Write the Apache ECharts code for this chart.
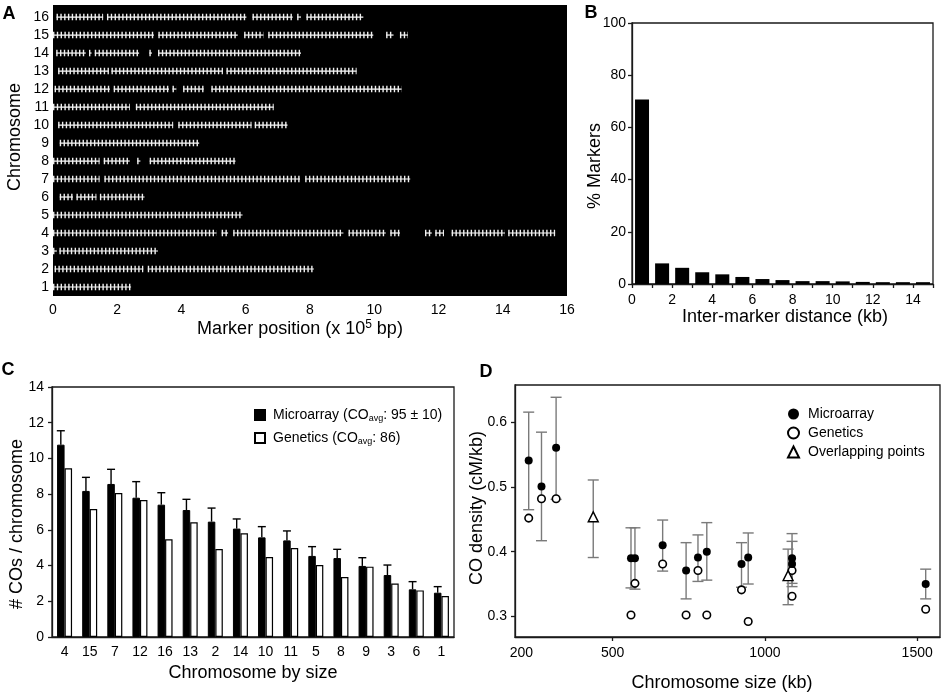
<!DOCTYPE html>
<html><head><meta charset="utf-8">
<script src="https://cdn.jsdelivr.net/npm/echarts@6/dist/echarts.min.js"></script>
<style>html,body{margin:0;padding:0;background:#fff}#c{width:942px;height:696px}</style>
</head><body><div id="c"></div>
<script>
// ---------- Panel A: marker coverage per chromosome (x 1e5 bp), [start, end] runs ----------
const chromosomeTicks = [1,2,3,4,5,6,7,8,9,10,11,12,13,14,15,16];
const segChr1 = [[0,2.43]];
const segChr2 = [[0.05,2.81],[2.95,8.12]];
const segChr3 = [[0,0.12],[0.2,3.27]];
const segChr4 = [[0,5.09],[5.25,5.45],[5.61,9.04],[9.2,10.36],[10.5,10.8],[11.58,11.79],[11.9,12.17],[12.41,14.07],[14.17,15.63]];
const segChr5 = [[0,5.9]];
const segChr6 = [[0.21,0.62],[0.73,1.35],[1.46,2.85]];
const segChr7 = [[0,1.45],[1.6,7.69],[7.85,11.12]];
const segChr8 = [[0,1.45],[1.58,2.39],[2.62,2.72],[3.01,5.68]];
const segChr9 = [[0.21,4.55]];
const segChr10 = [[0.16,3.74],[3.9,6.18],[6.28,7.3]];
const segChr11 = [[0,2.39],[2.58,6.87]];
const segChr12 = [[0.05,1.77],[1.89,3.61],[3.72,3.84],[4.05,4.69],[4.93,10.85]];
const segChr13 = [[0.16,1.74],[1.82,5.29],[5.4,9.45]];
const segChr14 = [[0.1,1.02],[1.12,1.2],[1.3,2.68],[3.0,3.08],[3.27,7.72]];
const segChr15 = [[0,3.14],[3.28,5.75],[5.95,6.55],[6.7,9.97],[10.37,10.6],[10.8,11.05]];
const segChr16 = [[0.11,1.56],[1.68,6.02],[6.21,7.46],[7.6,7.72],[7.89,9.66]];

// ---------- Panel B: inter-marker distance histogram ----------
const distanceBins = [0.5,1.5,2.5,3.5,4.5,5.5,6.5,7.5,8.5,9.5,10.5,11.5,12.5,13.5,14.5];
const markerPercent = [70.7,7.9,6.2,4.5,3.7,2.7,1.9,1.5,1.1,1.1,1.0,0.8,0.7,0.7,0.7];

// ---------- Panel C: COs per chromosome ----------
const chromosomesBySize = ['4','15','7','12','16','13','2','14','10','11','5','8','9','3','6','1'];
const microarrayCOs = [10.77,8.18,8.57,7.80,7.41,7.11,6.46,6.07,5.58,5.41,4.54,4.42,3.98,3.47,2.67,2.48];
const microarrayCOsErr = [0.78,0.76,0.82,0.90,0.67,0.60,0.76,0.54,0.60,0.53,0.52,0.49,0.46,0.56,0.43,0.34];
const geneticsCOs = [9.45,7.17,8.06,7.67,5.47,6.42,4.93,5.81,4.48,4.98,4.03,3.36,3.94,2.99,2.61,2.30];

// ---------- Panel D: CO density vs chromosome size ----------
const microSizeKb = [224,266,314,560,573,664,741,780,809,923,945,1089,1089,1528];
const microDensity = [0.541,0.501,0.561,0.390,0.390,0.410,0.371,0.391,0.400,0.381,0.391,0.390,0.381,0.350];
const microHigh = [0.616,0.585,0.639,0.437,0.437,0.449,0.414,0.426,0.445,0.414,0.429,0.428,0.416,0.373];
const microLow = [0.465,0.417,0.481,0.344,0.342,0.370,0.327,0.354,0.356,0.345,0.350,0.351,0.346,0.327];
const genSizeKb = [224,266,314,560,573,664,741,780,809,923,945,1089,1089,1528];
const genDensity = [0.452,0.482,0.482,0.302,0.351,0.381,0.302,0.371,0.302,0.341,0.292,0.371,0.331,0.311];
const overlapSizeKb = [436,1076];
const overlapDensity = [0.454,0.363];
const overlapHigh = [0.511,0.404];
const overlapLow = [0.391,0.318];
const sizeTicks = [200, 500, 1000, 1500];
const densityTicks = [0.3, 0.4, 0.5, 0.6];

// ---------- build ----------
const FONT = "'Liberation Sans', Arial, Helvetica, sans-serif";
const allSegs = [segChr1,segChr2,segChr3,segChr4,segChr5,segChr6,segChr7,segChr8,segChr9,segChr10,segChr11,segChr12,segChr13,segChr14,segChr15,segChr16];
const segData = [];
allSegs.forEach((list, i) => list.forEach(s => segData.push([i + 1, s[0], s[1]])));

const chart = echarts.init(document.getElementById('c'), null, {renderer: 'canvas'});
const AX = '#1a1a1a';
const lbl = (m) => ({color: '#000', fontSize: 14, fontFamily: FONT, margin: m});

function renderSeg(params, api) {
  const y = api.value(0), s = api.value(1), e = api.value(2);
  const p1 = api.coord([s, y]), p2 = api.coord([e, y]);
  return {type: 'group', children: [
    {type: 'line', shape: {x1: p1[0], y1: p1[1], x2: p2[0], y2: p2[1]}, style: {stroke: '#fff', lineWidth: 1.2}},
    {type: 'line', shape: {x1: p1[0], y1: p1[1], x2: p2[0], y2: p2[1]}, style: {stroke: '#f0f0f0', lineWidth: 6.5, lineDash: [1.4, 2.4]}}
  ]};
}
function renderErrC(params, api) {
  const idx = api.value(0), v = api.value(1), err = api.value(2);
  const base = api.coord([idx, v]), top = api.coord([idx, v + err]);
  const x = base[0] - 3.75;
  return {type: 'group', children: [
    {type: 'line', shape: {x1: x, y1: base[1], x2: x, y2: top[1]}, style: {stroke: '#000', lineWidth: 1.4}},
    {type: 'line', shape: {x1: x - 4, y1: top[1], x2: x + 4, y2: top[1]}, style: {stroke: '#000', lineWidth: 1.4}}
  ]};
}
function renderErrD(params, api) {
  const xv = api.value(0), lo = api.value(1), hi = api.value(2);
  const a = api.coord([xv, lo]), b = api.coord([xv, hi]);
  const st = {stroke: '#7a7a7a', lineWidth: 1.4};
  return {type: 'group', children: [
    {type: 'line', shape: {x1: a[0], y1: a[1], x2: b[0], y2: b[1]}, style: st},
    {type: 'line', shape: {x1: a[0] - 5.5, y1: a[1], x2: a[0] + 5.5, y2: a[1]}, style: st},
    {type: 'line', shape: {x1: b[0] - 5.5, y1: b[1], x2: b[0] + 5.5, y2: b[1]}, style: st}
  ]};
}

const errDData = microSizeKb.map((k, i) => [k, microLow[i], microHigh[i]])
  .concat(overlapSizeKb.map((k, i) => [k, overlapLow[i], overlapHigh[i]]));

const txt = (t, x, y, size, rot, bold) => ({
  type: 'text', x: x, y: y, rotation: rot || 0,
  style: {text: t, x: 0, y: 0, align: 'center', verticalAlign: 'middle', fontSize: size, fontWeight: bold ? 'bold' : 'normal', fontFamily: FONT, fill: '#000'}
});

const option = {
  backgroundColor: '#fff',
  animation: false,
  grid: [
    {left: 53, top: 5, width: 514, height: 291, show: true, backgroundColor: '#000', borderWidth: 0, containLabel: false},
    {left: 632, top: 23, width: 301, height: 261, show: true, borderColor: AX, borderWidth: 1.3},
    {left: 52, top: 387, width: 402, height: 250, show: true, borderColor: AX, borderWidth: 1.3},
    {left: 515, top: 385, width: 425, height: 252, show: true, borderColor: AX, borderWidth: 1.3}
  ],
  xAxis: [
    {gridIndex: 0, type: 'value', min: 0, max: 16, interval: 2, axisLine: {show: false}, axisTick: {show: false}, splitLine: {show: false}, axisLabel: lbl(7)},
    {gridIndex: 1, type: 'value', min: 0, max: 15, interval: 1, axisLine: {lineStyle: {color: AX, width: 1.3}}, axisTick: {length: 4, lineStyle: {color: AX, width: 1.3}}, splitLine: {show: false},
      axisLabel: Object.assign(lbl(9), {formatter: v => (v % 2 === 0 ? String(v) : '')})},
    {gridIndex: 2, type: 'category', data: chromosomesBySize, axisLine: {lineStyle: {color: AX, width: 1.3}}, axisTick: {length: 4, lineStyle: {color: AX, width: 1.3}}, axisLabel: lbl(8)},
    {gridIndex: 3, type: 'value', min: 179, max: 1575, axisLine: {lineStyle: {color: AX, width: 1.3}}, splitLine: {show: false},
      axisTick: {length: 4, lineStyle: {color: AX, width: 1.3}, customValues: [500, 1000, 1500]},
      axisLabel: Object.assign(lbl(9), {customValues: sizeTicks, formatter: v => String(v)})}
  ],
  yAxis: [
    {gridIndex: 0, type: 'value', min: 0.5, max: 16.67, axisLine: {show: false}, axisTick: {show: false}, splitLine: {show: false},
      axisLabel: Object.assign(lbl(4), {customValues: chromosomeTicks})},
    {gridIndex: 1, type: 'value', min: 0, max: 100, interval: 20, axisLine: {lineStyle: {color: AX, width: 1.3}}, axisTick: {show: true, length: 4, lineStyle: {color: AX, width: 1.3}}, splitLine: {show: false}, axisLabel: lbl(6)},
    {gridIndex: 2, type: 'value', min: 0, max: 14, interval: 2, axisLine: {show: true, lineStyle: {color: AX, width: 1.3}}, axisTick: {show: true, length: 4, lineStyle: {color: AX, width: 1.3}}, splitLine: {show: false}, axisLabel: lbl(8)},
    {gridIndex: 3, type: 'value', min: 0.268, max: 0.658, axisLine: {show: true, lineStyle: {color: AX, width: 1.3}},
      axisTick: {show: true, length: 4, lineStyle: {color: AX, width: 1.3}, customValues: densityTicks}, splitLine: {show: false},
      axisLabel: Object.assign(lbl(8), {customValues: densityTicks, formatter: v => v.toFixed(1)})}
  ],
  legend: [
    {data: ['Microarray', 'Genetics'], left: 249, top: 402, orient: 'vertical', icon: 'rect', itemWidth: 10, itemHeight: 10, itemGap: 7, selectedMode: false,
      formatter: n => n === 'Microarray' ? '{a|Microarray (CO}{s|avg}{a|: 95 ± 10)}' : '{a|Genetics (CO}{s|avg}{a|: 86)}',
      textStyle: {color: '#000', fontSize: 14, fontFamily: FONT, lineHeight: 16, padding: [0, 0, 0, 3],
        rich: {a: {fontSize: 14, fontFamily: FONT, color: '#000', lineHeight: 16}, s: {fontSize: 9, fontFamily: FONT, color: '#000', lineHeight: 7, verticalAlign: 'bottom'}}}},
    {data: ['Microarray ', 'Genetics ', 'Overlapping points'], left: 782, top: 401, orient: 'vertical', itemWidth: 11, itemHeight: 11, itemGap: 3, selectedMode: false,
      formatter: n => n.trim(),
      textStyle: {color: '#000', fontSize: 14, fontFamily: FONT, lineHeight: 16, padding: [0, 0, 0, 4]}}
  ],
  series: [
    {type: 'custom', name: 'markers', xAxisIndex: 0, yAxisIndex: 0, renderItem: renderSeg, data: segData, encode: {x: [1, 2], y: 0}, silent: true},
    {type: 'bar', name: 'percent', xAxisIndex: 1, yAxisIndex: 1, barWidth: 14, itemStyle: {color: '#000'},
      data: distanceBins.map((b, i) => [b, markerPercent[i]])},
    {type: 'bar', name: 'Microarray', xAxisIndex: 2, yAxisIndex: 2, barWidth: 7.5, barGap: '0%', itemStyle: {color: '#000', borderColor: '#000', borderWidth: 1}, data: microarrayCOs},
    {type: 'bar', name: 'Genetics', xAxisIndex: 2, yAxisIndex: 2, barWidth: 7.5, barGap: '0%', itemStyle: {color: '#fff', borderColor: '#000', borderWidth: 1.2}, data: geneticsCOs},
    {type: 'custom', name: 'errC', xAxisIndex: 2, yAxisIndex: 2, renderItem: renderErrC, z: 5,
      data: microarrayCOs.map((v, i) => [i, v, microarrayCOsErr[i]]), encode: {x: 0, y: 1}},
    {type: 'custom', name: 'errD', xAxisIndex: 3, yAxisIndex: 3, renderItem: renderErrD, z: 1, data: errDData, encode: {x: 0, y: [1, 2]}},
    {type: 'scatter', name: 'Genetics ', xAxisIndex: 3, yAxisIndex: 3, symbol: 'circle', symbolSize: 7.5, z: 3,
      itemStyle: {color: '#fff', borderColor: '#000', borderWidth: 1.6, opacity: 1}, data: genSizeKb.map((k, i) => [k, genDensity[i]])},
    {type: 'scatter', name: 'Microarray ', xAxisIndex: 3, yAxisIndex: 3, symbol: 'circle', symbolSize: 8, z: 4,
      itemStyle: {color: '#000', opacity: 1}, data: microSizeKb.map((k, i) => [k, microDensity[i]])},
    {type: 'scatter', name: 'Overlapping points', xAxisIndex: 3, yAxisIndex: 3, symbol: 'triangle', symbolSize: 10, z: 4,
      itemStyle: {color: '#fff', borderColor: '#000', borderWidth: 1.4, opacity: 1}, data: overlapSizeKb.map((k, i) => [k, overlapDensity[i]])}
  ],
  graphic: [
    txt('A', 9, 14, 18, 0, true),
    txt('B', 591, 13, 18, 0, true),
    txt('C', 8, 370, 18, 0, true),
    txt('D', 486, 372, 18, 0, true),
    txt('Chromosome', 15.5, 137, 18, Math.PI / 2),
    {type: 'text', x: 300, y: 329, style: {text: '{a|Marker position (x 10}{b|5}{a| bp)}', x: 0, y: 0, align: 'center', verticalAlign: 'middle', fontFamily: FONT, fill: '#000',
      rich: {a: {fontSize: 18, fontFamily: FONT, fill: '#000', lineHeight: 20}, b: {fontSize: 12, fontFamily: FONT, fill: '#000', lineHeight: 12, verticalAlign: 'top'}}}},
    txt('% Markers', 595, 166, 18, Math.PI / 2),
    txt('Inter-marker distance (kb)', 785, 317, 18, 0),
    txt('# COs / chromosome', 17.5, 524, 18, Math.PI / 2),
    txt('Chromosome by size', 253, 673, 18, 0),
    txt('CO density (cM/kb)', 477, 508, 18, Math.PI / 2),
    txt('Chromosome size (kb)', 722, 683, 18, 0)
  ]
};
chart.setOption(option);
</script>
</body></html>
